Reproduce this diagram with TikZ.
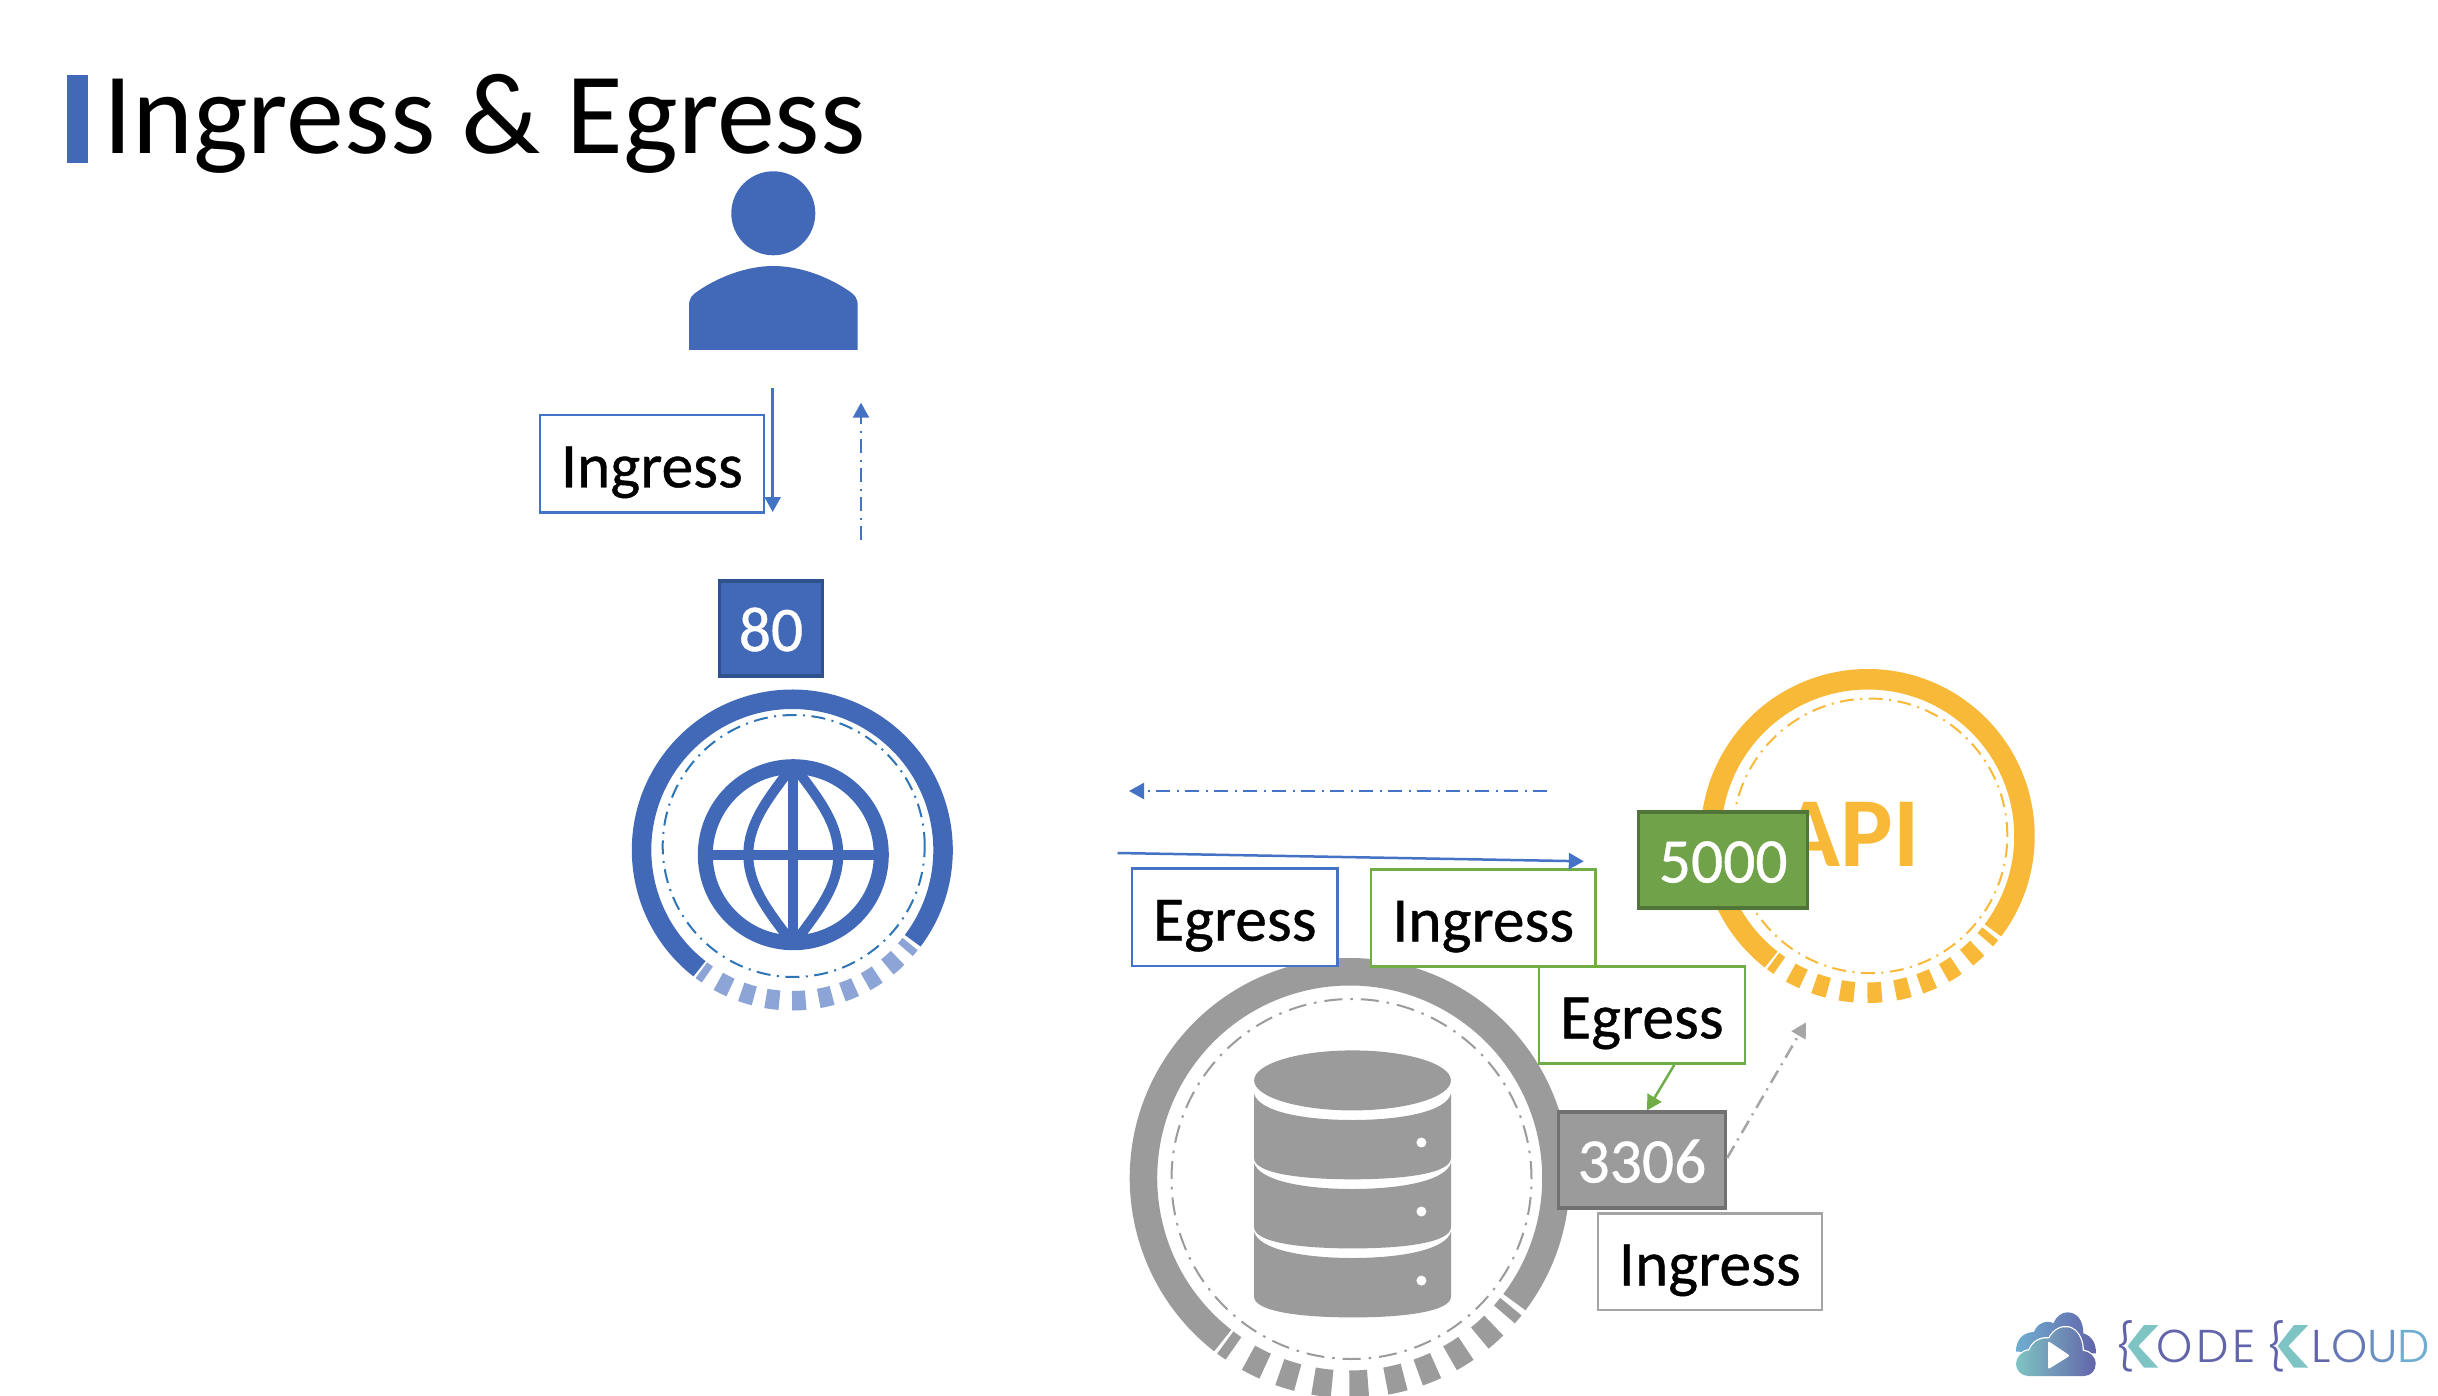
\documentclass[tikz,border=0pt]{standalone}
\usepackage{fontspec}
\setmainfont{Carlito}
\newfontfamily\lblfont{Carlito}[FakeBold=0.6]
\newfontfamily\logofont{Poppins Light}[LetterSpace=7]
\usetikzlibrary{arrows.meta,calc}
\definecolor{blueA}{HTML}{4169B8}
\definecolor{blueL}{HTML}{4472C4}
\definecolor{blueT}{HTML}{8CA5D6}
\definecolor{blueD}{HTML}{2E75B6}
\definecolor{blueB}{HTML}{2F528F}
\definecolor{grayA}{HTML}{9B9B9B}
\definecolor{grayB}{HTML}{717171}
\definecolor{grayL}{HTML}{A5A5A5}
\definecolor{greenA}{HTML}{70A24A}
\definecolor{greenB}{HTML}{507537}
\definecolor{greenL}{HTML}{70AD47}
\definecolor{gold}{HTML}{F9B938}
\definecolor{lgTeal}{HTML}{7FC4C4}
\definecolor{lgBlue}{HTML}{6FAED0}
\definecolor{lgPurp}{HTML}{6264AA}
\tikzset{
  labelbox/.style={draw=#1,fill=white,line width=2.5pt,inner sep=0pt,font=\lblfont\fontsize{63.5}{63}\selectfont,
     text=black,text height=47pt,text depth=0pt,anchor=center},
  portbox/.style={draw=#1,line width=3.5pt,inner sep=0pt,font=\lblfont\fontsize{63.5}{63}\selectfont,
     text=white,text height=45pt,text depth=0pt,anchor=center},
  dd/.style={dash pattern=on 14pt off 6.5pt on 2pt off 6.5pt},
  solidarrow/.style={line width=2.5pt,-{Triangle[length=15pt,width=16pt]}},
  dasharrow/.style={line width=2.5pt,dd,-{Triangle[length=15pt,width=16pt]}},
}
% centre x, centre y, outer r, inner r, ring colour, tick colour
\newcommand{\ringfig}[6]{%
  \pgfmathsetmacro{\ringmid}{(#3+#4)/2}%
  \pgfmathsetmacro{\rw}{#3-#4}%
  \draw[#5,line width=\rw pt] ([shift={(#1,#2)}]-37:\ringmid) arc[start angle=-37,end angle=232,radius=\ringmid];
  \foreach \a/\h in {-125.7/1.4,-116.8/2.6,-107.2/2.6,-97.5/2.6,-87.5/2.6,-77.3/2.6,-68/2.6,-58.3/2.6,-48.3/2.6,-40/1.4}{
    \draw[#6,line width=\rw pt] ([shift={(#1,#2)}]\a-\h:\ringmid) arc[start angle=\a-\h,end angle=\a+\h,radius=\ringmid];
  }%
}
% segment of the database: top y of corners, top centre y, side bottom y, bottom centre y
\newcommand{\dbseg}[4]{%
  \fill[grayA] (1254,-#1) -- (1254,-#3) .. controls (1254,-#4+6) and (1300,-#4) .. (1352.5,-#4)
     .. controls (1405,-#4) and (1451,-#4+6) .. (1451,-#3) -- (1451,-#1)
     .. controls (1446,-#2+8) and (1400,-#2) .. (1352.5,-#2)
     .. controls (1305,-#2) and (1259,-#2+8) .. (1254,-#1) -- cycle;%
}
\begin{document}
\begin{tikzpicture}[x=1pt,y=1pt]
\clip (0,0) rectangle (2438,-1396);
\fill[white] (0,0) rectangle (2438,-1396);

% title
\fill[blueA] (67,-75) rectangle (88,-163);
\node[anchor=base west,inner sep=0pt,font=\fontsize{116}{116}\selectfont,text=black] (title) at (103,-154) {Ingress \& Egress};

% user
\fill[blueA] (773.3,-213.3) circle[radius=42];
\fill[blueA] (689,-350) -- (689,-306) .. controls (689,-298) and (692,-295) .. (698,-291)
  .. controls (720,-276) and (748,-266) .. (773.3,-266)
  .. controls (799,-266) and (827,-276) .. (849,-291)
  .. controls (855,-295) and (857.7,-298) .. (857.7,-306) -- (857.7,-350) -- cycle;

% web ring
\ringfig{792.3}{-850}{160.5}{141}{blueA}{blueT}
\draw[blueD,line width=2pt,dd] (793.7,-846) circle[radius=131];
\begin{scope}[shift={(793.3,-854.7)}]
  \draw[blueA,line width=15pt] (0,0) circle[radius=88];
  \draw[blueA,line width=10pt] (-88,0) -- (88,0) (0,-88) -- (0,88);
  \draw[blueA,line width=10pt] (0,90) .. controls (-20,62) and (-45,35) .. (-45,0) .. controls (-45,-35) and (-20,-62) .. (0,-90);
  \draw[blueA,line width=10pt] (0,90) .. controls (20,62) and (45,35) .. (45,0) .. controls (45,-35) and (20,-62) .. (0,-90);
\end{scope}

% API ring
\ringfig{1867.7}{-836}{167}{146.5}{gold}{gold}
\draw[gold,line width=2pt,dd] (1870,-835.8) circle[radius=137.3];
\node[inner sep=0pt,font=\bfseries\fontsize{99}{99}\selectfont,text=gold,anchor=base] (api) at (1850,-866) {API};

% database ring
\ringfig{1349.7}{-1178}{220}{192.5}{grayA}{grayA}
\draw[grayA,line width=2pt,dash pattern=on 18pt off 8pt on 2.5pt off 8pt] (1351.5,-1179) circle[radius=180];
\fill[grayA] (1352.5,-1080.4) ellipse[x radius=98.4,y radius=30];
\dbseg{1093.6}{1120}{1158}{1179.3}
\dbseg{1162.6}{1189}{1227}{1248.4}
\dbseg{1231.6}{1258}{1296.5}{1317.4}
\foreach \y in {1142.5,1211.5,1280.6}{\fill[white] (1421.4,-\y) circle[radius=5];}

% boxes
\node[labelbox=blueL,minimum width=224pt,minimum height=97.7pt] (ingressA) at (651.9,-463.8) {Ingress};
\node[portbox=blueB,fill=blueA,minimum width=103pt,minimum height=95pt] (port80) at (771,-628.5) {80};
\node[labelbox=blueL,minimum width=205.5pt,minimum height=97.5pt] (egressA) at (1234.8,-917.2) {Egress};
\node[labelbox=greenL,minimum width=224.4pt,minimum height=96.7pt] (ingressB) at (1483.2,-918) {Ingress};
\node[labelbox=greenL,minimum width=205.7pt,minimum height=97pt] (egressB) at (1641.9,-1014.9) {Egress};
\node[portbox=greenB,fill=greenA,minimum width=169pt,minimum height=96pt] (port5000) at (1723.2,-860) {5000};
\node[portbox=grayB,fill=grayA,minimum width=167pt,minimum height=95.6pt] (port3306) at (1641.9,-1160) {3306};
\node[labelbox=grayL,minimum width=224pt,minimum height=96.4pt] (ingressC) at (1709.8,-1261.8) {Ingress};

% connectors
\coordinate (a1) at (772.7,-388);
\coordinate (a2) at (772.7,-512);
\coordinate (b1) at (861,-540);
\coordinate (b2) at (861,-402.7);
\coordinate (c1) at (1547,-791);
\coordinate (c2) at (1129,-791);
\coordinate (d1) at (1117.5,-853);
\coordinate (d2) at (1583.8,-861.3);
\coordinate (e2) at (1806,-1022.4);
\draw[blueL,solidarrow] (a1) -- (a2);
\draw[blueL,dasharrow] (b1) -- (b2);
\draw[blueL,dasharrow] (c1) -- (c2);
\draw[blueL,solidarrow] (d1) -- (d2);
\draw[greenL,solidarrow] ([xshift=32.5pt]egressB.south) -- ([xshift=5pt]port3306.north);
\draw[grayL,dasharrow] ([yshift=2pt]port3306.east) -- (e2);

% logo
\begin{scope}[shift={(1960,-1270)},x=0.3333pt,y=-0.3333pt]
  \shade[left color=lgBlue,right color=lgPurp]
    (168,245) .. controls (168,207) and (190,187) .. (222,186)
    .. controls (230,160) and (262,148) .. (280,160)
    .. controls (290,138) and (305,127) .. (322,127)
    .. controls (350,127) and (370,150) .. (370,190)
    .. controls (395,198) and (408,218) .. (408,250) -- cycle;
  \path[fill=white,draw=white,line width=2.5pt]
    (205,318) .. controls (185,318) and (168,302) .. (168,282)
    .. controls (168,262) and (185,243) .. (208,241)
    .. controls (218,215) and (240,203) .. (268,205)
    .. controls (280,180) and (305,168) .. (325,172)
    .. controls (350,178) and (368,205) .. (368,242)
    .. controls (390,245) and (407,260) .. (407,282)
    .. controls (407,302) and (392,318) .. (372,318) -- cycle;
  \shade[left color=lgTeal,middle color=lgBlue,right color=lgPurp]
    (205,318) .. controls (185,318) and (168,302) .. (168,282)
    .. controls (168,262) and (185,243) .. (208,241)
    .. controls (218,215) and (240,203) .. (268,205)
    .. controls (280,180) and (305,168) .. (325,172)
    .. controls (350,178) and (368,205) .. (368,242)
    .. controls (390,245) and (407,260) .. (407,282)
    .. controls (407,302) and (392,318) .. (372,318) -- cycle;
  \fill[white,rounded corners=2pt] (264,213) -- (330,257) -- (264,298) -- cycle;
  \fill[lgTeal] (552,165) -- (595,165) -- (535,228) -- (595,293) -- (552,293) -- (503,228) -- cycle;
  \fill[lgTeal] (1002,165) -- (1045,165) -- (985,228) -- (1045,293) -- (1002,293) -- (953,228) -- cycle;
  \node[inner sep=0pt,font=\logofont\fontsize{46}{46}\selectfont,text=lgPurp] (brace1) at (496,228) {\{};
  \node[inner sep=0pt,font=\logofont\fontsize{46}{46}\selectfont,text=lgPurp] (brace2) at (947,228) {\{};
  \node[inner sep=0pt,font=\logofont\fontsize{46}{46}\selectfont,anchor=base west] (kode) at (590,278)
    {\textcolor{lgPurp}{ODE}};
  \node[inner sep=0pt,font=\logofont\fontsize{46}{46}\selectfont,anchor=base west] (kloud) at (1055,278)
    {\textcolor{lgPurp}{L}\textcolor{lgPurp!75!lgBlue}{O}\textcolor{lgPurp!40!lgBlue}{U}\textcolor{lgBlue}{D}};
\end{scope}
\end{tikzpicture}
\end{document}
